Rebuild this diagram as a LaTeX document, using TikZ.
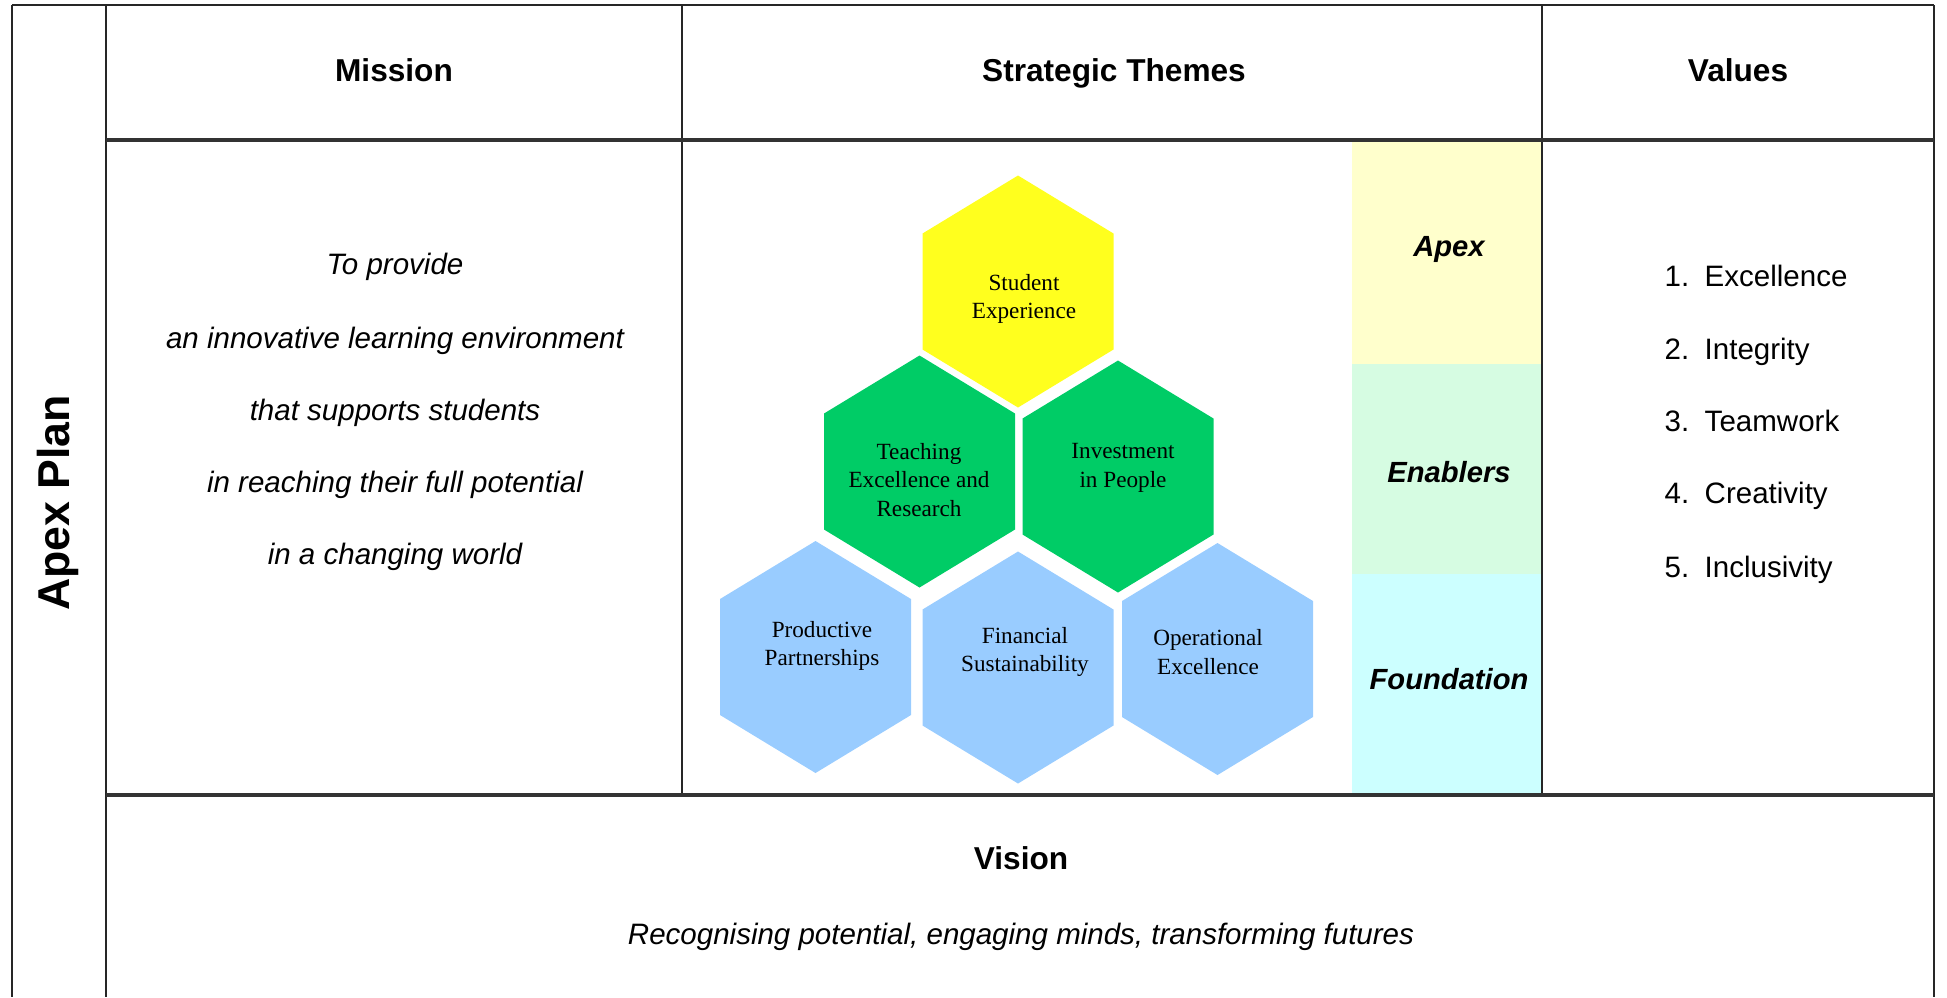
\documentclass[tikz,border=0pt]{standalone}
\usepackage{fontspec}
\setmainfont{Liberation Sans}
\newfontfamily\hexfont{Liberation Serif}
\definecolor{hexyellow}{RGB}{255,255,30}
\definecolor{hexgreen}{RGB}{0,204,102}
\definecolor{hexblue}{RGB}{153,204,255}
\definecolor{apexband}{RGB}{255,255,204}
\definecolor{enablerband}{RGB}{214,252,226}
\definecolor{foundband}{RGB}{204,255,255}
\tikzset{
  gridline/.style={line width=0.6pt, black!85},
  ruleline/.style={line width=0.9pt, black!80},
  celltext/.style={text height=0.75em, text depth=0.18em},
  headtext/.style={celltext, font=\fontsize{9}{11}\selectfont\bfseries},
  missiontext/.style={celltext, font=\fontsize{8.4}{10}\selectfont\itshape},
  bandtext/.style={celltext, font=\fontsize{8.3}{10}\selectfont\bfseries\itshape},
  valuetext/.style={celltext, font=\fontsize{8.4}{10}\selectfont, anchor=west, inner sep=0pt},
  hexlabel/.style={font=\hexfont\fontsize{6.6}{8.1}\selectfont, align=center, inner sep=0pt},
}
\begin{document}
\begin{tikzpicture}[x=0.1mm,y=-0.1mm]
  \useasboundingbox (0,0) rectangle (1947,997);
  % bands
  \fill[apexband] (1352,140) rectangle (1542,364);
  \fill[enablerband] (1352,364) rectangle (1542,574);
  \fill[foundband] (1352,574) rectangle (1542,795);
  % table
  \draw[gridline] (12,5) -- (1934,5);
  \draw[gridline] (12,5) -- (12,997);
  \draw[gridline] (106,5) -- (106,997);
  \draw[gridline] (1934,5) -- (1934,997);
  \draw[gridline] (682,5) -- (682,795);
  \draw[gridline] (1542,5) -- (1542,795);
  \draw[ruleline] (106,140) -- (1934,140);
  \draw[ruleline] (106,795) -- (1934,795);
  % hexagons
  \foreach \nm/\cx/\cy/\tx/\ty/\col/\txt in {
    student/1018/291.5/1024/299/hexyellow/{Student\\Experience},
    teaching/919.5/471.5/919/480/hexgreen/{Teaching\\Excellence and\\Research},
    investment/1118/476.5/1123/468/hexgreen/{Investment\\in People},
    productive/815.5/657/822/646/hexblue/{Productive\\Partnerships},
    financial/1018/667.5/1025/652/hexblue/{Financial\\Sustainability},
    operational/1217.5/659/1208/652/hexblue/{Operational\\Excellence}}{
    \fill[\col] (\cx,\cy) ++(0,-116) -- ++(95.5,58) -- ++(0,116) -- ++(-95.5,58)
      -- ++(-95.5,-58) -- ++(0,-116) -- cycle;
    \node[hexlabel] (\nm) at (\tx,\ty) {\txt};
  }
  % headers
  \node[headtext] (mission) at (394,71) {Mission};
  \node[headtext] (themes) at (1114,71) {Strategic Themes};
  \node[headtext] (values) at (1738,71) {Values};
  \node[font=\fontsize{12.7}{14}\selectfont\bfseries, rotate=90] (plan) at (58,503) {Apex Plan};
  % mission
  \node[missiontext] (m1) at (395,264) {To provide};
  \node[missiontext] (m2) at (395,338) {an innovative learning environment};
  \node[missiontext] (m3) at (395,410) {that supports students};
  \node[missiontext] (m4) at (395,482) {in reaching their full potential};
  \node[missiontext] (m5) at (395,554) {in a changing world};
  % bands
  \node[bandtext] (apex) at (1449,246) {Apex};
  \node[bandtext] (enablers) at (1449,472) {Enablers};
  \node[bandtext] (foundation) at (1449,679) {Foundation};
  % values
  \node[valuetext] (v1) at (1664,276) {\makebox[4mm][l]{1.}Excellence};
  \node[valuetext] (v2) at (1664,349) {\makebox[4mm][l]{2.}Integrity};
  \node[valuetext] (v3) at (1664,421) {\makebox[4mm][l]{3.}Teamwork};
  \node[valuetext] (v4) at (1664,493) {\makebox[4mm][l]{4.}Creativity};
  \node[valuetext] (v5) at (1664,567) {\makebox[4mm][l]{5.}Inclusivity};
  % vision
  \node[headtext] (vision) at (1021,859) {Vision};
  \node[missiontext] (visiontext) at (1021,934) {Recognising potential, engaging minds, transforming futures};
\end{tikzpicture}
\end{document}
